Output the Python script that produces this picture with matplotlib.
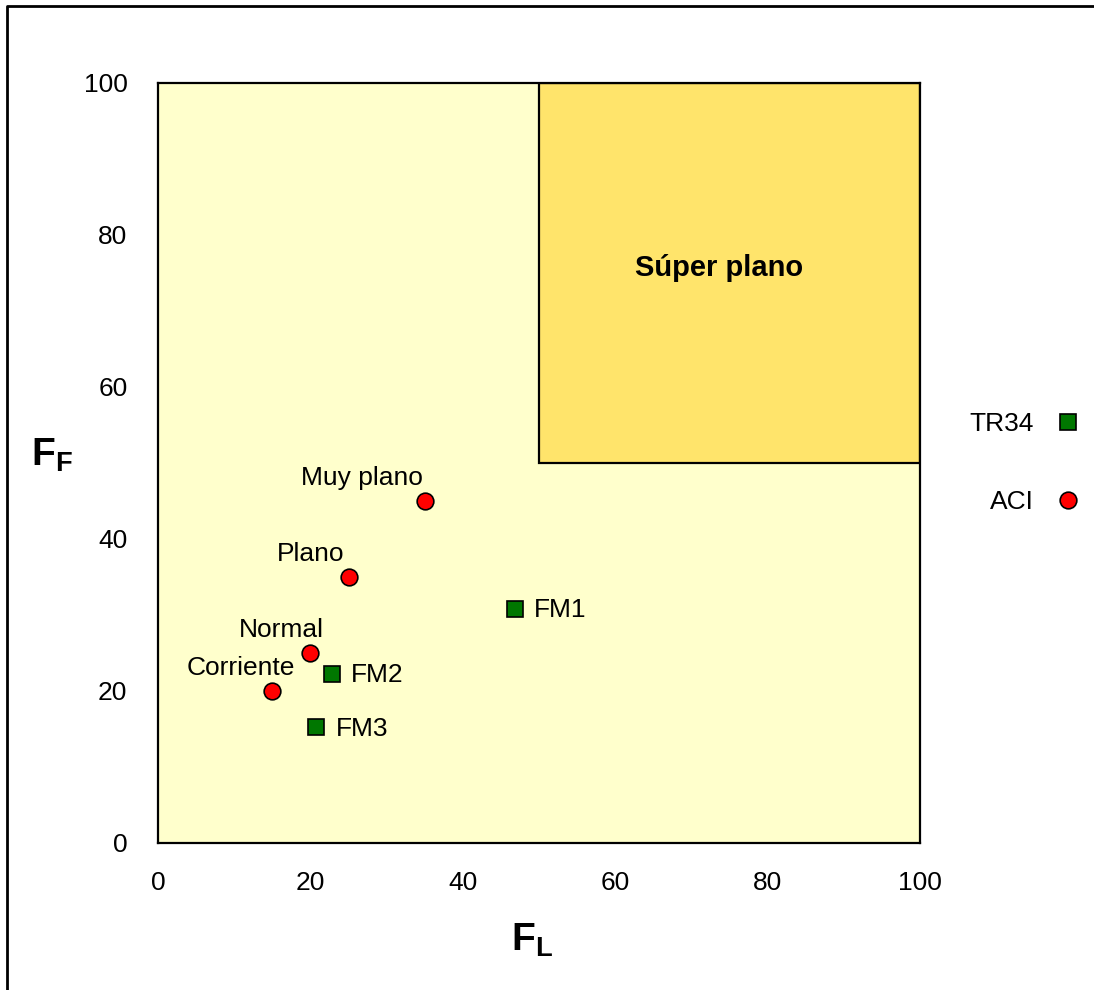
import matplotlib
matplotlib.use("Agg")
import matplotlib.pyplot as plt
from matplotlib.patches import Rectangle
from matplotlib.lines import Line2D

plt.rcParams['font.family'] = ['Liberation Sans', 'DejaVu Sans']
plt.rcParams['mathtext.fontset'] = 'custom'
plt.rcParams['mathtext.rm'] = 'Liberation Sans'
plt.rcParams['mathtext.bf'] = 'Liberation Sans:bold'

# ACI classes
aci_names = ['Muy plano', 'Plano', 'Normal', 'Corriente']
aci_fl = [35, 25, 20, 15]
aci_ff = [45, 35, 25, 20]

# TR34 classes
tr_names = ['FM1', 'FM2', 'FM3']
tr_fl = [46.8, 22.8, 20.8]
tr_ff = [30.8, 22.3, 15.2]

# "Super plano" zone
sp_fl = [50, 100]
sp_ff = [50, 100]

# label offsets (points)
aci_off = [(-1, 8), (-3, 8), (10, 8), (16, 8)]

fig = plt.figure(figsize=(10.94, 9.90), dpi=100)
ax = fig.add_axes([158/1094, 1-843/990, 762/1094, 760/990])
ax.set_facecolor('#FFFFCC')
ax.set_xlim(0, 100)
ax.set_ylim(0, 100)

ax.add_patch(Rectangle((sp_fl[0], sp_ff[0]), sp_fl[1]-sp_fl[0], sp_ff[1]-sp_ff[0],
                       facecolor='#FFE46B', edgecolor='black', linewidth=1.6, zorder=1))
ax.text(73.6, 75.7, 'Súper plano', ha='center', va='center',
        fontsize=21, fontweight='bold')

ax.plot(tr_fl, tr_ff, 's', color='#007700', markeredgecolor='black', markeredgewidth=1.2,
        markersize=11, linestyle='none', zorder=3, label='TR34', clip_on=False)
ax.plot(aci_fl, aci_ff, 'o', color='#FF0000', markeredgecolor='black', markeredgewidth=1.2,
        markersize=12, linestyle='none', zorder=3, label='ACI', clip_on=False)

for n, x, y, (dx, dy) in zip(aci_names, aci_fl, aci_ff, aci_off):
    ax.annotate(n, (x, y), xytext=(dx, dy), textcoords='offset points',
                ha='right', va='bottom', fontsize=19)
for n, x, y in zip(tr_names, tr_fl, tr_ff):
    ax.annotate(n, (x, y), xytext=(14, -1), textcoords='offset points',
                ha='left', va='center', fontsize=19)

ax.set_xticks([0, 20, 40, 60, 80, 100])
ax.set_yticks([0, 20, 40, 60, 80, 100])
ax.tick_params(length=0, labelsize=19)
ax.tick_params(axis='x', pad=20)
ax.tick_params(axis='y', pad=22)
for s in ax.spines.values():
    s.set_linewidth(1.6)

fig.text(52/1094, 1-455/990, r'$\mathbf{F}_{\mathbf{F}}$', fontsize=28, ha='center', va='center')
fig.text(532/1094, 1-940/990, r'$\mathbf{F}_{\mathbf{L}}$', fontsize=28, ha='center', va='center')

ax.legend(loc='center left', bbox_to_anchor=(946/1094, 1-463/990), bbox_transform=fig.transFigure,
          frameon=False, markerfirst=False, fontsize=19, labelspacing=2.05,
          handlelength=0.8, handletextpad=0.9, numpoints=1)

fig.add_artist(Line2D([7/1094, 7/1094, 1.0], [0.0, 1-6/990, 1-6/990],
                      transform=fig.transFigure, color='black', linewidth=2))

fig.savefig('out.png', dpi=100)
